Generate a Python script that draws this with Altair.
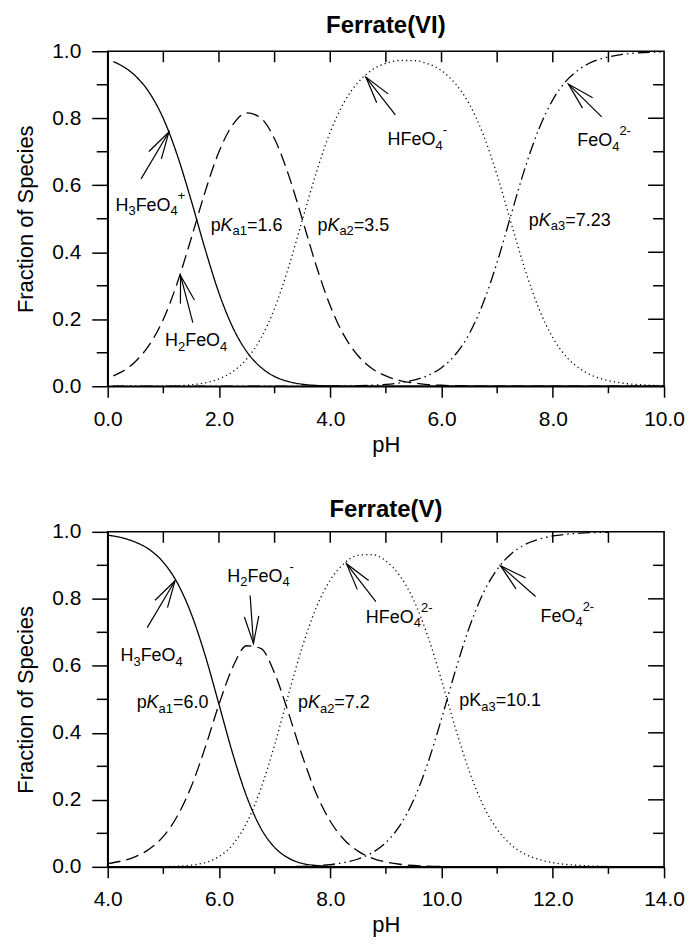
import math
import altair as alt
import pandas as pd

# ---------------- data ----------------
# Ferrate(VI)
ph_vi = [0.1, 0.25, 0.5, 0.75, 1.0, 1.25, 1.5, 1.75, 2.0, 2.25, 2.5, 2.75, 3.0, 3.25, 3.5, 3.75,
         4.0, 4.25, 4.5, 4.75, 5.0, 5.25, 5.5, 5.75, 6.0, 6.25, 6.5, 6.75, 7.0, 7.25, 7.5, 7.75,
         8.0, 8.25, 8.5, 8.75, 9.0, 9.25, 9.5, 9.75, 10.0]
h3_vi = [0.969, 0.957, 0.926, 0.876, 0.799, 0.690, 0.555, 0.410, 0.278, 0.175, 0.103, 0.057, 0.029,
         0.014, 0.006, 0.0025, 0.001, 0.0003, 0.0001] + [0.0] * 22
h2_vi = [0.031, 0.043, 0.074, 0.124, 0.200, 0.308, 0.441, 0.580, 0.700, 0.781, 0.816, 0.801, 0.738,
         0.631, 0.497, 0.359, 0.240, 0.151, 0.091, 0.053, 0.031, 0.017, 0.010, 0.005, 0.003, 0.0016,
         0.0008, 0.0004, 0.0002, 0.0001] + [0.0] * 11
h1_vi = [0.0, 0.0, 0.0001, 0.0002, 0.0006, 0.0017, 0.0044, 0.0103, 0.022, 0.044, 0.082, 0.142, 0.233,
         0.355, 0.497, 0.638, 0.759, 0.848, 0.907, 0.944, 0.964, 0.9725, 0.972, 0.963, 0.942, 0.903,
         0.842, 0.751, 0.630, 0.488, 0.349, 0.232, 0.145, 0.087, 0.051, 0.029, 0.017, 0.0095, 0.0053,
         0.003, 0.0017]
fe_vi = [0.0] * 14 + [0.0001, 0.0002, 0.0004, 0.0009, 0.0017, 0.0031, 0.0057, 0.0102, 0.0181, 0.0319,
                      0.0554, 0.0948, 0.157, 0.249, 0.370, 0.512, 0.651, 0.768, 0.855, 0.913, 0.949,
                      0.971, 0.983, 0.9905, 0.9947, 0.997, 0.998]

# Ferrate(V)
ph_v = [4.0, 4.25, 4.5, 4.75, 5.0, 5.25, 5.5, 5.75, 6.0, 6.25, 6.5, 6.75, 7.0, 7.25, 7.5, 7.75, 8.0,
        8.25, 8.5, 8.75, 9.0, 9.25, 9.5, 9.75, 10.0, 10.25, 10.5, 10.75, 11.0, 11.25, 11.5, 11.75,
        12.0, 12.25, 12.5, 12.75, 13.0]
h3_v = [0.990, 0.9825, 0.969, 0.947, 0.909, 0.848, 0.756, 0.632, 0.485, 0.336, 0.209, 0.116, 0.058,
        0.026, 0.010, 0.004, 0.0014, 0.0005, 0.0001] + [0.0] * 18
h2_v = [0.0099, 0.0175, 0.0306, 0.0532, 0.0909, 0.151, 0.239, 0.355, 0.485, 0.597, 0.660, 0.652,
        0.578, 0.459, 0.330, 0.218, 0.136, 0.081, 0.047, 0.026, 0.0145, 0.0077, 0.004, 0.0019,
        0.0009, 0.0004, 0.0002, 0.0001] + [0.0] * 9
h1_v = [0.0, 0.0, 0.0001, 0.0002, 0.0006, 0.0017, 0.0048, 0.0126, 0.0306, 0.067, 0.132, 0.2315,
        0.364, 0.515, 0.658, 0.7745, 0.856, 0.906, 0.930, 0.932, 0.913, 0.869, 0.796, 0.690, 0.557,
        0.414, 0.285, 0.183, 0.112, 0.066, 0.038, 0.022, 0.0124, 0.007, 0.004, 0.0022, 0.0013]
fe_v = [0.0] * 12 + [0.0003, 0.0007, 0.0016, 0.0035, 0.0068, 0.0128, 0.0234, 0.0416, 0.0725, 0.123,
                     0.200, 0.308, 0.442, 0.586, 0.715, 0.817, 0.888, 0.934, 0.962, 0.978, 0.9876,
                     0.993, 0.996, 0.9978, 0.9987]

species = ["s0", "s1", "s2", "s3"]
dashes = [[1, 0], [13, 6], [1.2, 3.2], [12, 4, 1.5, 4, 1.5, 4]]

y_major = [0.0, 0.2, 0.4, 0.6, 0.8, 1.0]
y_minor = [0.1, 0.3, 0.5, 0.7, 0.9]
y_inner_major = [0.2, 0.4, 0.6, 0.8]

x_major_vi = [0, 2, 4, 6, 8, 10]
x_minor_vi = [1, 3, 5, 7, 9]
x_major_v = [4, 6, 8, 10, 12, 14]
x_minor_v = [5, 7, 9, 11, 13]

# annotation labels: (pH, fraction, [(text, kind)]) ; kind n=normal, i=italic, sub, sup
labels_vi = [
    (0.14, 0.524, [("H", "n"), ("3", "sub"), ("FeO", "n"), ("4", "sub"), ("+", "sup")]),
    (1.03, 0.119, [("H", "n"), ("2", "sub"), ("FeO", "n"), ("4", "sub")]),
    (5.03, 0.720, [("HFeO", "n"), ("4", "sub"), ("-", "sup")]),
    (8.44, 0.717, [("FeO", "n"), ("4", "sub"), ("2-", "sup")]),
    (1.85, 0.464, [("p", "n"), ("K", "i"), ("a1", "sub"), ("=1.6", "n")]),
    (3.77, 0.464, [("p", "n"), ("K", "i"), ("a2", "sub"), ("=3.5", "n")]),
    (7.57, 0.479, [("p", "n"), ("K", "i"), ("a3", "sub"), ("=7.23", "n")]),
]
labels_v = [
    (4.23, 0.613, [("H", "n"), ("3", "sub"), ("FeO", "n"), ("4", "sub")]),
    (6.15, 0.851, [("H", "n"), ("2", "sub"), ("FeO", "n"), ("4", "sub"), ("-", "sup")]),
    (8.64, 0.729, [("HFeO", "n"), ("4", "sub"), ("2-", "sup")]),
    (11.78, 0.732, [("FeO", "n"), ("4", "sub"), ("2-", "sup")]),
    (4.52, 0.473, [("p", "n"), ("K", "i"), ("a1", "sub"), ("=6.0", "n")]),
    (7.42, 0.473, [("p", "n"), ("K", "i"), ("a2", "sub"), ("=7.2", "n")]),
    (10.32, 0.479, [("pK", "n"), ("a3", "sub"), ("=10.1", "n")]),
]
# arrows: (tail pH, tail f, tip pH, tip f)
arrows_vi = [(0.60, 0.619, 1.10, 0.759), (1.53, 0.19, 1.31, 0.330),
             (5.17, 0.81, 4.64, 0.923), (8.88, 0.804, 8.28, 0.902)]
arrows_v = [(4.71, 0.714, 5.21, 0.854), (6.56, 0.81, 6.62, 0.667),
            (8.82, 0.792, 8.29, 0.905), (11.69, 0.807, 11.06, 0.899)]

# ---------------- layout helpers ----------------
W, H = 558, 336
FONT = "Liberation Sans"
BASE, SMALL = 18, 13
SUB_DY, SUP_DY = 4.5, -11
ARIAL = {'H': 0.722, 'F': 0.611, 'e': 0.556, 'O': 0.778, 'p': 0.556, 'K': 0.667, 'a': 0.556,
         '=': 0.584, '.': 0.278, '+': 0.584, '-': 0.333}


def tw(s, fs):
    return sum(ARIAL.get(c, 0.556) for c in s) * fs


def text_df(labels, sx, sy):
    rows = []
    for x0, y0, pieces in labels:
        cur = 0.0
        for txt, kind in pieces:
            fs = SMALL if kind in ("sub", "sup") else BASE
            dy = SUB_DY if kind == "sub" else (SUP_DY if kind == "sup" else 0)
            rows.append(dict(x=x0 + cur / sx, y=y0 - dy / sy, t=txt, k=kind))
            cur += tw(txt, fs)
    return pd.DataFrame(rows)


def arrow_df(arrows, sx, sy):
    rows = []
    for x1, y1, x2, y2 in arrows:
        dxp = (x2 - x1) * sx
        dyp = -(y2 - y1) * sy
        ang = math.degrees(math.atan2(dxp, -dyp)) % 360
        rows.append(dict(x1=x1, y1=y1, x2=x2, y2=y2, ang=ang))
    return pd.DataFrame(rows)


HEAD = "M -0.259 0.966 L 0 0 L 0.259 0.966"


def panel(title, ph, series, xdom, xmaj, xmin_, labels, arrows, toff):
    sx = W / (xdom[1] - xdom[0])
    sy = H
    xscale = alt.Scale(domain=xdom, nice=False, zero=False)
    yscale = alt.Scale(domain=[0, 1], nice=False)
    xaxis = alt.Axis(values=xmaj, format=".1f", tickSize=11, labelPadding=11, titlePadding=5,
                     grid=False, labelFlush=False)
    yaxis = alt.Axis(values=y_major, format=".1f", tickSize=16, labelPadding=11, titlePadding=14,
                     grid=False, labelFlush=False)

    def X(f):
        return alt.X(f, type="quantitative", scale=xscale, axis=xaxis, title="pH")

    def Y(f):
        return alt.Y(f, type="quantitative", scale=yscale, axis=yaxis, title="Fraction of Species")

    rows = []
    for sp, vals in zip(species, series):
        for p, v in zip(ph, vals):
            rows.append(dict(sp=sp, ph=p, f=v))
    df = pd.DataFrame(rows)

    lines = alt.Chart(df).mark_line(color="black", strokeWidth=1.3, interpolate="monotone").encode(
        x=X("ph"), y=Y("f"),
        strokeDash=alt.StrokeDash("sp:N", scale=alt.Scale(domain=species, range=dashes), legend=None),
        detail="sp:N",
    )

    tdf = text_df(labels, sx, sy)
    t_n = alt.Chart(tdf[tdf.k == "n"]).mark_text(align="left", baseline="alphabetic", font=FONT,
                                                 fontSize=BASE, color="black").encode(
        x=X("x"), y=Y("y"), text="t:N")
    t_i = alt.Chart(tdf[tdf.k == "i"]).mark_text(align="left", baseline="alphabetic", font=FONT,
                                                 fontSize=BASE, fontStyle="italic",
                                                 color="black").encode(
        x=X("x"), y=Y("y"), text="t:N")
    t_s = alt.Chart(tdf[tdf.k.isin(["sub", "sup"])]).mark_text(
        align="left", baseline="alphabetic", font=FONT, fontSize=SMALL, color="black").encode(
        x=X("x"), y=Y("y"), text="t:N")

    adf = arrow_df(arrows, sx, sy)
    shafts = alt.Chart(adf).mark_rule(color="black", strokeWidth=1.2).encode(
        x=X("x1"), y=Y("y1"), x2="x2", y2="y2")
    heads = alt.Chart(adf).mark_point(shape=HEAD, filled=False, stroke="black", strokeWidth=1.2,
                                      size=3136, opacity=1).encode(
        x=X("x2"), y=Y("y2"), angle=alt.Angle("ang:Q", scale=None))

    tk = dict(color="black", strokeWidth=1.5)
    left_minor = alt.Chart(pd.DataFrame({"v": y_minor})).mark_rule(**tk).encode(
        y=Y("v"), x=alt.value(-11), x2=alt.value(0))
    right_major = alt.Chart(pd.DataFrame({"v": y_inner_major})).mark_rule(**tk).encode(
        y=Y("v"), x=alt.value(W - 16), x2=alt.value(W))
    right_minor = alt.Chart(pd.DataFrame({"v": y_minor})).mark_rule(**tk).encode(
        y=Y("v"), x=alt.value(W - 11), x2=alt.value(W))
    top_all = alt.Chart(pd.DataFrame({"v": xmaj[1:-1] + xmin_})).mark_rule(**tk).encode(
        x=X("v"), y=alt.value(0), y2=alt.value(11))
    bottom_minor = alt.Chart(pd.DataFrame({"v": xmin_})).mark_rule(**tk).encode(
        x=X("v"), y=alt.value(H), y2=alt.value(H + 7))

    return alt.layer(lines, shafts, heads, t_n, t_i, t_s, left_minor, right_major, right_minor,
                     top_all, bottom_minor).properties(
        width=W, height=H,
        title=alt.TitleParams(title, offset=toff, fontSize=24, fontWeight="bold", font=FONT,
                              color="black"))


top = panel("Ferrate(VI)", ph_vi, [h3_vi, h2_vi, h1_vi, fe_vi], [0, 10], x_major_vi, x_minor_vi,
            labels_vi, arrows_vi, 2)
bottom = panel("Ferrate(V)", ph_v, [h3_v, h2_v, h1_v, fe_v], [4, 14], x_major_v, x_minor_v,
               labels_v, arrows_v, -1)

chart = alt.vconcat(top, bottom, spacing=41, background="white",
                    padding={"left": 6, "right": 0, "top": 4, "bottom": 0}).configure_view(
    stroke="black", strokeWidth=1.6
).configure_axis(
    labelFont=FONT, titleFont=FONT, labelFontSize=21, titleFontSize=22, titleFontWeight="normal",
    labelColor="black", titleColor="black", domainColor="black", tickColor="black",
    domainWidth=1.6, tickWidth=1.5
)

chart.save("out.html", embed_options={"renderer": "svg", "actions": False})
